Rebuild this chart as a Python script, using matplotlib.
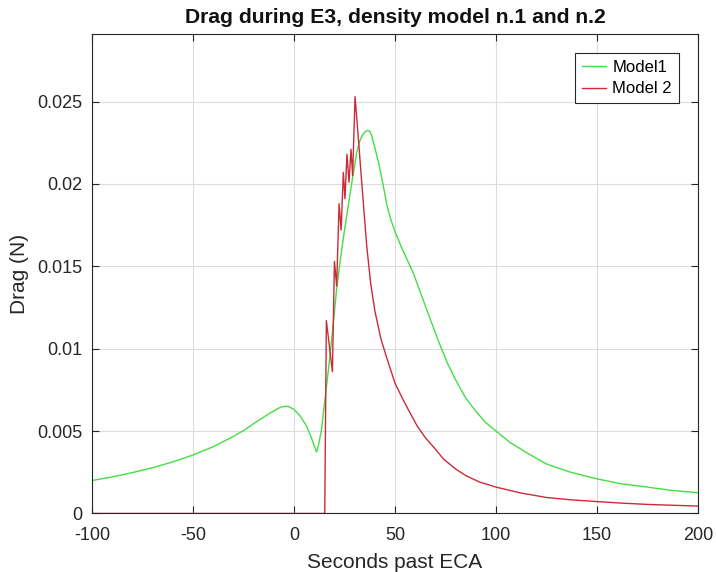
import matplotlib
matplotlib.use("Agg")
import matplotlib.pyplot as plt

# Model 1 drag profile (seconds past ECA, newtons)
t_model1 = [-100, -90, -80, -70, -60, -50, -40, -30, -25, -20, -15, -10, -7, -5, -3,
            0, 3, 6, 8, 9.5, 10.5, 11.2, 12, 13.5, 15, 17, 19, 21, 23, 25, 27, 29,
            31, 32.5, 34, 35.5, 36.5, 37.5, 38.5, 40, 42, 44, 46, 48, 50, 53, 56,
            59, 62, 65, 68, 72, 76, 80, 85, 90, 95, 100, 107, 115, 125, 137, 150,
            162, 175, 187, 200]
drag_model1 = [0.00200, 0.00222, 0.00248, 0.00278, 0.00313, 0.00355, 0.00405,
               0.00468, 0.00503, 0.00545, 0.00585, 0.00623, 0.00643, 0.00650,
               0.00650, 0.00632, 0.00592, 0.00535, 0.00478, 0.00428, 0.00395,
               0.00373, 0.00410, 0.00500, 0.00660, 0.00870, 0.01100, 0.01350,
               0.01550, 0.01720, 0.01880, 0.02040, 0.02190, 0.02260, 0.02300,
               0.02320, 0.02325, 0.02320, 0.02290, 0.02220, 0.02120, 0.02000,
               0.01870, 0.01780, 0.01710, 0.01620, 0.01540, 0.01460, 0.01360,
               0.01260, 0.01160, 0.01030, 0.00910, 0.00810, 0.00700, 0.00620,
               0.00550, 0.00500, 0.00430, 0.00370, 0.00300, 0.00250, 0.00210,
               0.00180, 0.00160, 0.00140, 0.00126]

# Model 2 drag profile
t_model2 = [-100, 15.2, 16.0, 19.0, 20.0, 21.1, 22.3, 23.3, 24.4, 25.2, 26.2, 27.2,
            28.2, 29.0, 30.2, 32, 34, 36, 38, 40, 43, 46, 50, 54, 57, 61, 65, 70,
            74, 80, 85, 92, 100, 112, 125, 137, 150, 162, 175, 187, 200]
drag_model2 = [0, 0, 0.0117, 0.0086, 0.0153, 0.0138, 0.0188, 0.0172, 0.0207,
               0.0191, 0.0218, 0.0201, 0.0221, 0.0205, 0.0253, 0.0225, 0.0193,
               0.0162, 0.0139, 0.0123, 0.0106, 0.0094, 0.0079, 0.0069, 0.0062,
               0.0053, 0.0046, 0.0039, 0.0033, 0.0027, 0.0023, 0.0019, 0.0016,
               0.00125, 0.00097, 0.00083, 0.00072, 0.00063, 0.00055, 0.00050,
               0.00045]

x_ticks = [-100, -50, 0, 50, 100, 150, 200]
y_ticks = [0, 0.005, 0.01, 0.015, 0.02, 0.025]
y_tick_labels = ["0", "0.005", "0.01", "0.015", "0.02", "0.025"]

plt.rcParams["font.family"] = ["Liberation Sans", "DejaVu Sans"]
ink = "#262626"

fig = plt.figure(figsize=(7.16, 5.72), dpi=100)
ax = fig.add_axes([0.1285, 0.1023, 0.8465, 0.8383])

ax.plot(t_model1, drag_model1, color="#44de44", lw=1.0, label="Model1")
ax.plot(t_model2, drag_model2, color="#cc2a38", lw=1.0, label="Model 2")

ax.set_xlim(-100, 200)
ax.set_ylim(0, 0.0291)
ax.set_xticks(x_ticks)
ax.set_xticklabels([str(v) for v in x_ticks])
ax.set_yticks(y_ticks)
ax.set_yticklabels(y_tick_labels)

ax.grid(True, color="#dcdcdc", lw=0.8)
ax.set_axisbelow(True)
for s in ax.spines.values():
    s.set_color(ink)
    s.set_linewidth(0.8)
ax.tick_params(direction="in", top=True, right=True, length=5, width=0.8,
               colors=ink, labelsize=13)
ax.tick_params(axis="x", pad=10)
ax.tick_params(axis="y", pad=7)

ax.set_title("Drag during E3, density model n.1 and n.2", fontsize=15.2,
             fontweight="bold", color="#111111", pad=8)
ax.set_xlabel("Seconds past ECA", fontsize=15, color=ink, labelpad=6)
ax.set_ylabel("Drag (N)", fontsize=15, color=ink, labelpad=6)

leg = ax.legend(loc="upper right", bbox_to_anchor=(0.9686, 0.9603), fontsize=12,
                frameon=True, fancybox=False, handlelength=1.45,
                handletextpad=0.4, borderpad=0.42, labelspacing=0.38,
                borderaxespad=0.0)
leg.get_frame().set_edgecolor(ink)
leg.get_frame().set_linewidth(0.8)
leg.get_frame().set_alpha(1.0)

fig.savefig("out.png", dpi=100)
